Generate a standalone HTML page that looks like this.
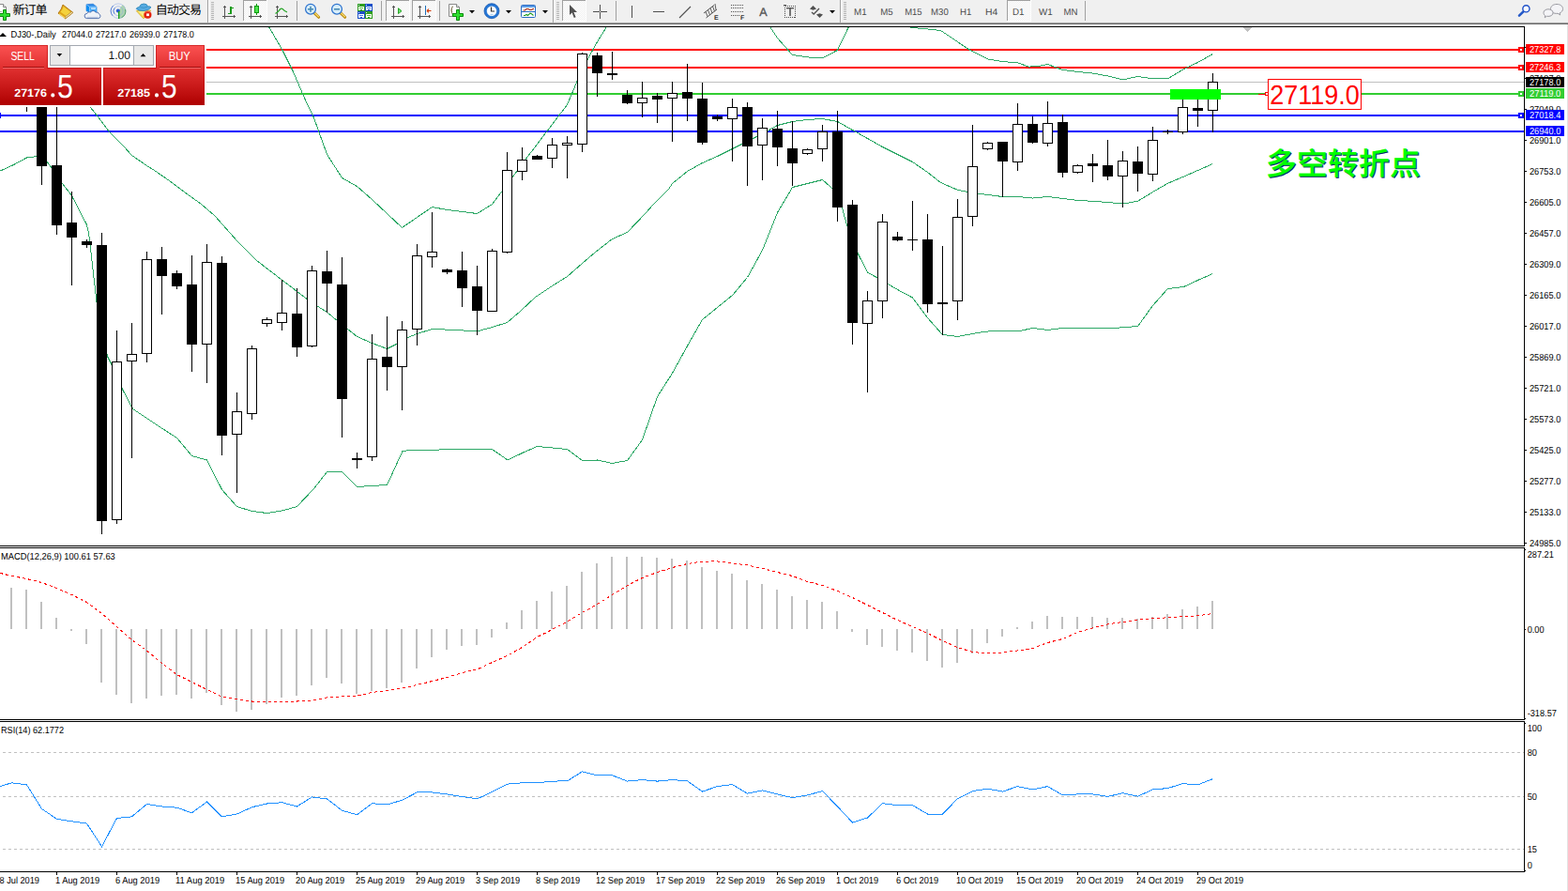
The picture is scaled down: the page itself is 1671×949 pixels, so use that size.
<!DOCTYPE html>
<html><head><meta charset="utf-8"><title>DJ30 Daily</title>
<style>html,body{margin:0;padding:0;background:#fff;overflow:hidden}body{width:1671px;height:949px;position:relative;font-family:"Liberation Sans",sans-serif}svg text{font-family:"Liberation Sans","Noto Sans CJK SC",sans-serif}</style></head>
<body>
<svg width="1671" height="949" viewBox="0 0 1671 949" text-rendering="geometricPrecision" style="position:absolute;left:0;top:0;font-family:'Liberation Sans','Noto Sans CJK SC',sans-serif">
<defs>
<linearGradient id="gr" x1="0" y1="48" x2="0" y2="112" gradientUnits="userSpaceOnUse"><stop offset="0" stop-color="#fb5252"/><stop offset="0.36" stop-color="#e23232"/><stop offset="0.7" stop-color="#c81818"/><stop offset="1" stop-color="#ad0000"/></linearGradient>
<clipPath id="cm"><rect x="0" y="29" width="1624" height="552"/></clipPath>
<pattern id="chk" width="2" height="2" patternUnits="userSpaceOnUse"><rect width="2" height="2" fill="#fff"/><rect width="1" height="1" fill="#f0f0f0"/><rect x="1" y="1" width="1" height="1" fill="#f0f0f0"/></pattern>
</defs>
<rect x="0" y="0" width="1671" height="949" fill="#fff"/>
<rect x="0" y="0" width="1671" height="23" fill="#f0f0f0"/>
<rect x="0" y="23" width="1671" height="1" fill="#ececec"/>
<rect x="0" y="24" width="1671" height="1" fill="#a0a0a0"/>
<rect x="0" y="25" width="1671" height="1" fill="#696969"/>
<rect x="1670" y="26" width="1" height="923" fill="#e3e3e3"/>
<g shape-rendering="crispEdges">
<g clip-path="url(#cm)">
<rect x="0" y="52" width="1624" height="2" fill="#ff0000"/>
<rect x="0" y="71" width="1624" height="2" fill="#ff0000"/>
<rect x="0" y="87" width="1624" height="1" fill="#c0c0c0"/>
<rect x="0" y="99" width="1624" height="2" fill="#32cd32"/>
<rect x="0" y="122" width="1624" height="2" fill="#0000ff"/>
<rect x="0" y="139" width="1624" height="2" fill="#0000ff"/>
<polyline points="286.5,28.5 300.5,52.5 312.5,76.5 324.5,104.5 334.5,125.5 348.5,164.5 364.5,189.5 380.5,198.5 396.5,212.5 412.5,227.5 428.5,242.5 444.5,231.5 460.5,220.5 476.5,223.5 492.5,225.5 508.5,227.5 524.5,217.5 540.5,196.5 556.5,174.5 572.5,153.5 588.5,132.5 604.5,111.5 620.5,73.5 636.5,44.5 646.5,28.5" fill="none" stroke="#2ca866" stroke-width="1"/>
<polyline points="820.5,28.5 828.5,40.5 844.5,58.5 860.5,60.9 876.5,61.9 892.5,53.5 904.5,28.5" fill="none" stroke="#2ca866" stroke-width="1"/>
<polyline points="968.5,28.5 972.5,29.5 988.5,31.0 1002.5,32.5 1020.5,44.5 1030.5,51.5 1052.5,62.9 1068.5,65.5 1084.5,66.9 1096.5,71.1 1106.5,70.5 1116.5,68.5 1132.5,74.5 1148.5,76.5 1164.5,78.1 1180.5,80.9 1196.5,84.9 1212.5,81.5 1228.5,83.9 1244.5,83.9 1260.5,74.1 1276.5,66.5 1292.5,57.5" fill="none" stroke="#2ca866" stroke-width="1"/>
<polyline points="60.5,92.5 76.5,100.5 96.5,114.5 104.5,124.5 116.5,140.5 132.5,156.5 140.5,165.5 156.5,176.5 164.5,181.5 180.5,192.5 196.5,204.5 214.5,217.5 228.5,229.5 253.5,257.5 273.5,277.5 301.5,299.0 326.5,318.0 340.5,327.5 348.5,332.5 360.5,342.5 370.5,350.5 380.5,358.5 396.5,365.5 412.5,371.5 422.5,366.5 434.5,359.5 444.5,355.5 460.5,350.5 476.5,351.1 492.5,351.9 508.5,352.9 524.5,348.5 540.5,343.5 554.5,331.5 570.5,316.5 588.5,304.5 604.5,294.5 620.5,280.5 634.5,268.5 652.5,254.5 668.5,247.5 688.5,226.5 696.5,217.5 712.5,201.5 716.5,195.5 732.5,182.5 748.5,173.5 764.5,166.5 780.5,158.5 796.5,150.5 812.5,142.5 828.5,133.5 844.5,129.5 860.5,127.5 876.5,126.5 892.5,129.5 908.5,138.5 924.5,147.5 940.5,156.5 956.5,164.5 972.5,172.5 988.5,183.5 1002.5,194.5 1020.5,202.3 1036.5,205.5 1052.5,207.5 1068.5,209.5 1084.5,209.5 1100.5,211.1 1116.5,209.5 1132.5,211.5 1148.5,213.5 1164.5,214.3 1180.5,215.5 1196.5,217.1 1212.5,214.3 1228.5,204.5 1244.5,195.3 1260.5,188.5 1276.5,181.5 1292.5,174.5" fill="none" stroke="#2ca866" stroke-width="1"/>
<polyline points="0.5,182.0 14.5,175.5 28.5,168.0 39.5,166.5 50.5,173.0 55.5,179.5 66.5,195.5 76.5,208.5 92.5,239.5 94.5,247.5 103.0,321.5 108.5,350.5 114.5,379.5 119.5,389.5 130.5,414.5 141.5,435.5 156.5,445.5 172.5,456.1 188.5,466.5 204.5,485.5 220.5,490.0 236.5,521.5 252.5,539.5 268.5,544.5 284.5,546.5 300.5,544.0 316.5,539.5 334.5,520.5 348.5,502.5 364.5,502.5 380.5,518.5 396.5,517.5 412.5,516.5 429.0,480.5 436.5,479.5 468.5,479.0 524.5,478.5 541.1,490.0 556.5,482.5 572.5,475.5 588.5,477.0 604.5,478.5 620.5,490.5 636.5,490.0 652.5,493.5 668.5,490.5 684.5,468.5 700.5,422.5 716.5,397.5 732.5,368.5 748.5,340.5 764.5,327.5 780.5,314.5 796.5,295.5 812.5,266.5 828.5,226.5 844.5,199.5 860.5,195.5 876.5,191.5 892.5,205.5 897.5,221.5 902.5,239.5 908.5,258.5 914.5,270.5 924.5,290.0 940.5,299.0 956.5,308.5 972.5,317.0 988.5,338.5 1004.5,356.5 1020.5,358.5 1036.5,355.5 1050.5,353.1 1068.5,352.5 1086.5,352.5 1100.5,349.5 1116.5,351.5 1132.5,349.5 1148.5,349.5 1164.5,349.5 1186.5,349.5 1212.5,347.5 1228.5,325.5 1244.5,307.5 1261.5,305.5 1276.5,298.5 1292.5,291.5" fill="none" stroke="#2ca866" stroke-width="1"/>
<rect x="28" y="70" width="1" height="49" fill="#000"/>
<rect x="23" y="80" width="11" height="21" fill="#000"/>
<rect x="44" y="70" width="1" height="127" fill="#000"/>
<rect x="39" y="72" width="11" height="105" fill="#000"/>
<rect x="60" y="70" width="1" height="180" fill="#000"/>
<rect x="55" y="176" width="11" height="64" fill="#000"/>
<rect x="76" y="204" width="1" height="100" fill="#000"/>
<rect x="71" y="237" width="11" height="16" fill="#000"/>
<rect x="92" y="255" width="1" height="9" fill="#000"/>
<rect x="87" y="257" width="11" height="4" fill="#000"/>
<rect x="108" y="248" width="1" height="321" fill="#000"/>
<rect x="103" y="261" width="11" height="294" fill="#000"/>
<rect x="124" y="352" width="1" height="206" fill="#000"/>
<rect x="119" y="385" width="11" height="169" fill="#000"/>
<rect x="120" y="386" width="9" height="167" fill="#fff"/>
<rect x="140" y="344" width="1" height="144" fill="#000"/>
<rect x="135" y="377" width="11" height="8" fill="#000"/>
<rect x="136" y="378" width="9" height="6" fill="#fff"/>
<rect x="156" y="268" width="1" height="118" fill="#000"/>
<rect x="151" y="276" width="11" height="101" fill="#000"/>
<rect x="152" y="277" width="9" height="99" fill="#fff"/>
<rect x="172" y="263" width="1" height="72" fill="#000"/>
<rect x="167" y="276" width="11" height="18" fill="#000"/>
<rect x="188" y="288" width="1" height="20" fill="#000"/>
<rect x="183" y="291" width="11" height="14" fill="#000"/>
<rect x="204" y="272" width="1" height="124" fill="#000"/>
<rect x="199" y="303" width="11" height="64" fill="#000"/>
<rect x="220" y="260" width="1" height="148" fill="#000"/>
<rect x="215" y="279" width="11" height="88" fill="#000"/>
<rect x="216" y="280" width="9" height="86" fill="#fff"/>
<rect x="236" y="273" width="1" height="212" fill="#000"/>
<rect x="231" y="280" width="11" height="184" fill="#000"/>
<rect x="252" y="418" width="1" height="107" fill="#000"/>
<rect x="247" y="438" width="11" height="25" fill="#000"/>
<rect x="248" y="439" width="9" height="23" fill="#fff"/>
<rect x="268" y="368" width="1" height="79" fill="#000"/>
<rect x="263" y="371" width="11" height="70" fill="#000"/>
<rect x="264" y="372" width="9" height="68" fill="#fff"/>
<rect x="284" y="338" width="1" height="10" fill="#000"/>
<rect x="279" y="340" width="11" height="5" fill="#000"/>
<rect x="280" y="341" width="9" height="3" fill="#fff"/>
<rect x="300" y="298" width="1" height="54" fill="#000"/>
<rect x="295" y="333" width="11" height="11" fill="#000"/>
<rect x="296" y="334" width="9" height="9" fill="#fff"/>
<rect x="316" y="307" width="1" height="73" fill="#000"/>
<rect x="311" y="334" width="11" height="36" fill="#000"/>
<rect x="332" y="283" width="1" height="87" fill="#000"/>
<rect x="327" y="288" width="11" height="81" fill="#000"/>
<rect x="328" y="289" width="9" height="79" fill="#fff"/>
<rect x="348" y="267" width="1" height="66" fill="#000"/>
<rect x="343" y="289" width="11" height="13" fill="#000"/>
<rect x="364" y="274" width="1" height="192" fill="#000"/>
<rect x="359" y="303" width="11" height="122" fill="#000"/>
<rect x="380" y="482" width="1" height="17" fill="#000"/>
<rect x="375" y="488" width="11" height="2" fill="#000"/>
<rect x="396" y="356" width="1" height="135" fill="#000"/>
<rect x="391" y="382" width="11" height="105" fill="#000"/>
<rect x="392" y="383" width="9" height="103" fill="#fff"/>
<rect x="412" y="337" width="1" height="79" fill="#000"/>
<rect x="407" y="380" width="11" height="11" fill="#000"/>
<rect x="428" y="342" width="1" height="95" fill="#000"/>
<rect x="423" y="351" width="11" height="40" fill="#000"/>
<rect x="424" y="352" width="9" height="38" fill="#fff"/>
<rect x="444" y="260" width="1" height="108" fill="#000"/>
<rect x="439" y="272" width="11" height="79" fill="#000"/>
<rect x="440" y="273" width="9" height="77" fill="#fff"/>
<rect x="460" y="226" width="1" height="59" fill="#000"/>
<rect x="455" y="268" width="11" height="6" fill="#000"/>
<rect x="456" y="269" width="9" height="4" fill="#fff"/>
<rect x="476" y="286" width="1" height="6" fill="#000"/>
<rect x="471" y="287" width="11" height="3" fill="#000"/>
<rect x="492" y="268" width="1" height="59" fill="#000"/>
<rect x="487" y="288" width="11" height="19" fill="#000"/>
<rect x="508" y="283" width="1" height="74" fill="#000"/>
<rect x="503" y="305" width="11" height="26" fill="#000"/>
<rect x="524" y="265" width="1" height="67" fill="#000"/>
<rect x="519" y="267" width="11" height="65" fill="#000"/>
<rect x="520" y="268" width="9" height="63" fill="#fff"/>
<rect x="540" y="162" width="1" height="108" fill="#000"/>
<rect x="535" y="181" width="11" height="88" fill="#000"/>
<rect x="536" y="182" width="9" height="86" fill="#fff"/>
<rect x="556" y="157" width="1" height="35" fill="#000"/>
<rect x="551" y="170" width="11" height="13" fill="#000"/>
<rect x="552" y="171" width="9" height="11" fill="#fff"/>
<rect x="572" y="165" width="1" height="5" fill="#000"/>
<rect x="567" y="166" width="11" height="4" fill="#000"/>
<rect x="588" y="147" width="1" height="32" fill="#000"/>
<rect x="583" y="154" width="11" height="15" fill="#000"/>
<rect x="584" y="155" width="9" height="13" fill="#fff"/>
<rect x="604" y="145" width="1" height="45" fill="#000"/>
<rect x="599" y="152" width="11" height="3" fill="#000"/>
<rect x="600" y="153" width="9" height="1" fill="#fff"/>
<rect x="620" y="56" width="1" height="106" fill="#000"/>
<rect x="615" y="57" width="11" height="97" fill="#000"/>
<rect x="616" y="58" width="9" height="95" fill="#fff"/>
<rect x="636" y="56" width="1" height="47" fill="#000"/>
<rect x="631" y="59" width="11" height="19" fill="#000"/>
<rect x="652" y="55" width="1" height="30" fill="#000"/>
<rect x="647" y="78" width="11" height="2" fill="#000"/>
<rect x="668" y="96" width="1" height="15" fill="#000"/>
<rect x="663" y="101" width="11" height="9" fill="#000"/>
<rect x="684" y="87" width="1" height="38" fill="#000"/>
<rect x="679" y="104" width="11" height="6" fill="#000"/>
<rect x="680" y="105" width="9" height="4" fill="#fff"/>
<rect x="700" y="99" width="1" height="32" fill="#000"/>
<rect x="695" y="102" width="11" height="4" fill="#000"/>
<rect x="716" y="87" width="1" height="64" fill="#000"/>
<rect x="711" y="99" width="11" height="6" fill="#000"/>
<rect x="712" y="100" width="9" height="4" fill="#fff"/>
<rect x="732" y="68" width="1" height="61" fill="#000"/>
<rect x="727" y="98" width="11" height="7" fill="#000"/>
<rect x="748" y="88" width="1" height="66" fill="#000"/>
<rect x="743" y="105" width="11" height="47" fill="#000"/>
<rect x="764" y="122" width="1" height="7" fill="#000"/>
<rect x="759" y="124" width="11" height="3" fill="#000"/>
<rect x="780" y="105" width="1" height="67" fill="#000"/>
<rect x="775" y="114" width="11" height="13" fill="#000"/>
<rect x="776" y="115" width="9" height="11" fill="#fff"/>
<rect x="796" y="109" width="1" height="89" fill="#000"/>
<rect x="791" y="114" width="11" height="42" fill="#000"/>
<rect x="812" y="126" width="1" height="66" fill="#000"/>
<rect x="807" y="136" width="11" height="19" fill="#000"/>
<rect x="808" y="137" width="9" height="17" fill="#fff"/>
<rect x="828" y="118" width="1" height="59" fill="#000"/>
<rect x="823" y="137" width="11" height="20" fill="#000"/>
<rect x="844" y="129" width="1" height="69" fill="#000"/>
<rect x="839" y="158" width="11" height="16" fill="#000"/>
<rect x="860" y="158" width="1" height="7" fill="#000"/>
<rect x="855" y="159" width="11" height="5" fill="#000"/>
<rect x="856" y="160" width="9" height="3" fill="#fff"/>
<rect x="876" y="133" width="1" height="39" fill="#000"/>
<rect x="871" y="140" width="11" height="19" fill="#000"/>
<rect x="872" y="141" width="9" height="17" fill="#fff"/>
<rect x="892" y="118" width="1" height="118" fill="#000"/>
<rect x="887" y="140" width="11" height="81" fill="#000"/>
<rect x="908" y="213" width="1" height="154" fill="#000"/>
<rect x="903" y="218" width="11" height="126" fill="#000"/>
<rect x="924" y="310" width="1" height="108" fill="#000"/>
<rect x="919" y="320" width="11" height="25" fill="#000"/>
<rect x="920" y="321" width="9" height="23" fill="#fff"/>
<rect x="940" y="228" width="1" height="111" fill="#000"/>
<rect x="935" y="236" width="11" height="85" fill="#000"/>
<rect x="936" y="237" width="9" height="83" fill="#fff"/>
<rect x="956" y="247" width="1" height="10" fill="#000"/>
<rect x="951" y="252" width="11" height="4" fill="#000"/>
<rect x="972" y="214" width="1" height="53" fill="#000"/>
<rect x="967" y="255" width="11" height="1" fill="#000"/>
<rect x="988" y="228" width="1" height="105" fill="#000"/>
<rect x="983" y="255" width="11" height="69" fill="#000"/>
<rect x="1004" y="262" width="1" height="95" fill="#000"/>
<rect x="999" y="322" width="11" height="2" fill="#000"/>
<rect x="1020" y="212" width="1" height="129" fill="#000"/>
<rect x="1015" y="231" width="11" height="90" fill="#000"/>
<rect x="1016" y="232" width="9" height="88" fill="#fff"/>
<rect x="1036" y="133" width="1" height="108" fill="#000"/>
<rect x="1031" y="177" width="11" height="54" fill="#000"/>
<rect x="1032" y="178" width="9" height="52" fill="#fff"/>
<rect x="1052" y="151" width="1" height="9" fill="#000"/>
<rect x="1047" y="152" width="11" height="7" fill="#000"/>
<rect x="1048" y="153" width="9" height="5" fill="#fff"/>
<rect x="1068" y="151" width="1" height="59" fill="#000"/>
<rect x="1063" y="151" width="11" height="21" fill="#000"/>
<rect x="1084" y="110" width="1" height="72" fill="#000"/>
<rect x="1079" y="132" width="11" height="41" fill="#000"/>
<rect x="1080" y="133" width="9" height="39" fill="#fff"/>
<rect x="1100" y="124" width="1" height="29" fill="#000"/>
<rect x="1095" y="132" width="11" height="20" fill="#000"/>
<rect x="1116" y="108" width="1" height="48" fill="#000"/>
<rect x="1111" y="131" width="11" height="22" fill="#000"/>
<rect x="1112" y="132" width="9" height="20" fill="#fff"/>
<rect x="1132" y="122" width="1" height="67" fill="#000"/>
<rect x="1127" y="130" width="11" height="54" fill="#000"/>
<rect x="1148" y="175" width="1" height="10" fill="#000"/>
<rect x="1143" y="176" width="11" height="8" fill="#000"/>
<rect x="1144" y="177" width="9" height="6" fill="#fff"/>
<rect x="1164" y="164" width="1" height="30" fill="#000"/>
<rect x="1159" y="174" width="11" height="3" fill="#000"/>
<rect x="1180" y="149" width="1" height="43" fill="#000"/>
<rect x="1175" y="176" width="11" height="12" fill="#000"/>
<rect x="1196" y="161" width="1" height="60" fill="#000"/>
<rect x="1191" y="171" width="11" height="17" fill="#000"/>
<rect x="1192" y="172" width="9" height="15" fill="#fff"/>
<rect x="1212" y="156" width="1" height="48" fill="#000"/>
<rect x="1207" y="172" width="11" height="13" fill="#000"/>
<rect x="1228" y="135" width="1" height="58" fill="#000"/>
<rect x="1223" y="149" width="11" height="37" fill="#000"/>
<rect x="1224" y="150" width="9" height="35" fill="#fff"/>
<rect x="1244" y="138" width="1" height="5" fill="#000"/>
<rect x="1239" y="140" width="11" height="1" fill="#000"/>
<rect x="1260" y="100" width="1" height="43" fill="#000"/>
<rect x="1255" y="114" width="11" height="27" fill="#000"/>
<rect x="1256" y="115" width="9" height="25" fill="#fff"/>
<rect x="1276" y="100" width="1" height="35" fill="#000"/>
<rect x="1271" y="115" width="11" height="3" fill="#000"/>
<rect x="1292" y="78" width="1" height="63" fill="#000"/>
<rect x="1287" y="87" width="11" height="31" fill="#000"/>
<rect x="1288" y="88" width="9" height="29" fill="#fff"/>
<rect x="1247" y="95" width="54" height="11" fill="#00ff00"/>
</g>
<rect x="1618" y="50" width="6" height="6" fill="#ff0000"/>
<rect x="1620" y="52" width="2" height="2" fill="#fff"/>
<rect x="1618" y="69" width="6" height="6" fill="#ff0000"/>
<rect x="1620" y="71" width="2" height="2" fill="#fff"/>
<rect x="1618" y="97" width="6" height="6" fill="#32cd32"/>
<rect x="1620" y="99" width="2" height="2" fill="#fff"/>
<rect x="1618" y="120" width="6" height="6" fill="#0000ff"/>
<rect x="1620" y="122" width="2" height="2" fill="#fff"/>
<rect x="0" y="120" width="1" height="6" fill="#0000ff"/>
<rect x="1325" y="29" width="9" height="1" fill="#c0c0c0"/>
<rect x="1326" y="30" width="7" height="1" fill="#c0c0c0"/>
<rect x="1327" y="31" width="5" height="1" fill="#c0c0c0"/>
<rect x="1328" y="32" width="3" height="1" fill="#c0c0c0"/>
<rect x="1329" y="33" width="1" height="1" fill="#c0c0c0"/>
<rect x="0" y="28" width="1625" height="1" fill="#000"/>
<rect x="1624" y="28" width="1" height="554" fill="#000"/>
<rect x="0" y="581" width="1625" height="1" fill="#000"/>
<rect x="0" y="583" width="1625" height="1" fill="#000"/>
<rect x="1624" y="583" width="1" height="184" fill="#000"/>
<rect x="0" y="766" width="1625" height="1" fill="#000"/>
<rect x="0" y="768" width="1625" height="1" fill="#000"/>
<rect x="1624" y="768" width="1" height="161" fill="#000"/>
<rect x="0" y="928" width="1625" height="1" fill="#000"/>
<rect x="11" y="626" width="2" height="44" fill="#c0c0c0"/>
<rect x="27" y="628" width="2" height="42" fill="#c0c0c0"/>
<rect x="43" y="641" width="2" height="29" fill="#c0c0c0"/>
<rect x="59" y="658" width="2" height="12" fill="#c0c0c0"/>
<rect x="75" y="670" width="2" height="2" fill="#c0c0c0"/>
<rect x="91" y="670" width="2" height="16" fill="#c0c0c0"/>
<rect x="107" y="670" width="2" height="57" fill="#c0c0c0"/>
<rect x="123" y="670" width="2" height="70" fill="#c0c0c0"/>
<rect x="139" y="670" width="2" height="79" fill="#c0c0c0"/>
<rect x="155" y="670" width="2" height="74" fill="#c0c0c0"/>
<rect x="171" y="670" width="2" height="71" fill="#c0c0c0"/>
<rect x="187" y="670" width="2" height="70" fill="#c0c0c0"/>
<rect x="203" y="670" width="2" height="74" fill="#c0c0c0"/>
<rect x="219" y="670" width="2" height="68" fill="#c0c0c0"/>
<rect x="235" y="670" width="2" height="81" fill="#c0c0c0"/>
<rect x="251" y="670" width="2" height="88" fill="#c0c0c0"/>
<rect x="267" y="670" width="2" height="86" fill="#c0c0c0"/>
<rect x="283" y="670" width="2" height="80" fill="#c0c0c0"/>
<rect x="299" y="670" width="2" height="73" fill="#c0c0c0"/>
<rect x="315" y="670" width="2" height="71" fill="#c0c0c0"/>
<rect x="331" y="670" width="2" height="60" fill="#c0c0c0"/>
<rect x="347" y="670" width="2" height="52" fill="#c0c0c0"/>
<rect x="363" y="670" width="2" height="58" fill="#c0c0c0"/>
<rect x="379" y="670" width="2" height="69" fill="#c0c0c0"/>
<rect x="395" y="670" width="2" height="66" fill="#c0c0c0"/>
<rect x="411" y="670" width="2" height="63" fill="#c0c0c0"/>
<rect x="427" y="670" width="2" height="57" fill="#c0c0c0"/>
<rect x="443" y="670" width="2" height="42" fill="#c0c0c0"/>
<rect x="459" y="670" width="2" height="30" fill="#c0c0c0"/>
<rect x="475" y="670" width="2" height="22" fill="#c0c0c0"/>
<rect x="491" y="670" width="2" height="18" fill="#c0c0c0"/>
<rect x="507" y="670" width="2" height="17" fill="#c0c0c0"/>
<rect x="523" y="670" width="2" height="9" fill="#c0c0c0"/>
<rect x="539" y="663" width="2" height="7" fill="#c0c0c0"/>
<rect x="555" y="650" width="2" height="20" fill="#c0c0c0"/>
<rect x="571" y="640" width="2" height="30" fill="#c0c0c0"/>
<rect x="587" y="630" width="2" height="40" fill="#c0c0c0"/>
<rect x="603" y="624" width="2" height="46" fill="#c0c0c0"/>
<rect x="619" y="609" width="2" height="61" fill="#c0c0c0"/>
<rect x="635" y="600" width="2" height="70" fill="#c0c0c0"/>
<rect x="651" y="593" width="2" height="77" fill="#c0c0c0"/>
<rect x="667" y="593" width="2" height="77" fill="#c0c0c0"/>
<rect x="683" y="593" width="2" height="77" fill="#c0c0c0"/>
<rect x="699" y="594" width="2" height="76" fill="#c0c0c0"/>
<rect x="715" y="595" width="2" height="75" fill="#c0c0c0"/>
<rect x="731" y="597" width="2" height="73" fill="#c0c0c0"/>
<rect x="747" y="604" width="2" height="66" fill="#c0c0c0"/>
<rect x="763" y="608" width="2" height="62" fill="#c0c0c0"/>
<rect x="779" y="611" width="2" height="59" fill="#c0c0c0"/>
<rect x="795" y="618" width="2" height="52" fill="#c0c0c0"/>
<rect x="811" y="622" width="2" height="48" fill="#c0c0c0"/>
<rect x="827" y="628" width="2" height="42" fill="#c0c0c0"/>
<rect x="843" y="635" width="2" height="35" fill="#c0c0c0"/>
<rect x="859" y="639" width="2" height="31" fill="#c0c0c0"/>
<rect x="875" y="641" width="2" height="29" fill="#c0c0c0"/>
<rect x="891" y="651" width="2" height="19" fill="#c0c0c0"/>
<rect x="907" y="670" width="2" height="3" fill="#c0c0c0"/>
<rect x="923" y="670" width="2" height="17" fill="#c0c0c0"/>
<rect x="939" y="670" width="2" height="19" fill="#c0c0c0"/>
<rect x="955" y="670" width="2" height="23" fill="#c0c0c0"/>
<rect x="971" y="670" width="2" height="25" fill="#c0c0c0"/>
<rect x="987" y="670" width="2" height="34" fill="#c0c0c0"/>
<rect x="1003" y="670" width="2" height="41" fill="#c0c0c0"/>
<rect x="1019" y="670" width="2" height="36" fill="#c0c0c0"/>
<rect x="1035" y="670" width="2" height="26" fill="#c0c0c0"/>
<rect x="1051" y="670" width="2" height="15" fill="#c0c0c0"/>
<rect x="1067" y="670" width="2" height="8" fill="#c0c0c0"/>
<rect x="1083" y="668" width="2" height="2" fill="#c0c0c0"/>
<rect x="1099" y="662" width="2" height="8" fill="#c0c0c0"/>
<rect x="1115" y="656" width="2" height="14" fill="#c0c0c0"/>
<rect x="1131" y="657" width="2" height="13" fill="#c0c0c0"/>
<rect x="1147" y="657" width="2" height="13" fill="#c0c0c0"/>
<rect x="1163" y="657" width="2" height="13" fill="#c0c0c0"/>
<rect x="1179" y="658" width="2" height="12" fill="#c0c0c0"/>
<rect x="1195" y="658" width="2" height="12" fill="#c0c0c0"/>
<rect x="1211" y="659" width="2" height="11" fill="#c0c0c0"/>
<rect x="1227" y="657" width="2" height="13" fill="#c0c0c0"/>
<rect x="1243" y="654" width="2" height="16" fill="#c0c0c0"/>
<rect x="1259" y="649" width="2" height="21" fill="#c0c0c0"/>
<rect x="1275" y="646" width="2" height="24" fill="#c0c0c0"/>
<rect x="1291" y="640" width="2" height="30" fill="#c0c0c0"/>
<polyline points="0.5,610.5 12.5,613.5 28.5,616.5 44.5,620.5 60.5,626.5 76.5,633.5 92.5,641.5 108.5,653.5 124.5,667.5 140.5,681.5 156.5,693.0 172.5,706.5 188.5,718.5 204.5,726.5 220.5,734.5 236.5,742.0 252.5,744.5 268.5,747.0 284.5,747.0 300.5,747.0 316.5,747.0 332.5,746.0 348.5,743.0 364.5,742.0 380.5,741.0 396.5,737.5 412.5,735.5 428.5,733.0 444.5,729.5 460.5,725.5 476.5,721.5 492.5,716.5 508.5,713.0 524.5,705.5 540.5,698.5 556.5,689.5 572.5,678.5 588.5,670.5 604.5,662.0 620.5,652.5 636.5,643.5 652.5,633.5 668.5,623.5 684.5,615.5 700.5,609.5 716.5,604.5 732.5,600.5 748.5,598.1 764.5,597.9 780.5,599.9 796.5,601.9 812.5,605.5 828.5,609.5 844.5,613.5 860.5,619.5 876.5,623.5 892.5,629.5 908.5,636.5 924.5,644.5 940.5,652.5 956.5,660.5 972.5,667.5 988.5,674.5 1004.5,682.5 1020.5,689.5 1036.5,694.5 1052.5,696.0 1068.5,695.0 1084.5,693.0 1100.5,690.5 1116.5,684.5 1132.5,680.5 1148.5,673.5 1164.5,668.8 1180.5,664.8 1196.5,662.5 1212.5,660.0 1228.5,658.8 1244.5,657.8 1260.5,656.8 1276.5,655.8 1292.5,653.5" fill="none" stroke="#ff0000" stroke-width="1" stroke-dasharray="3 3"/>
<line x1="3" y1="801.5" x2="1624" y2="801.5" stroke="#c0c0c0" stroke-width="1" stroke-dasharray="3 3"/>
<line x1="3" y1="848.5" x2="1624" y2="848.5" stroke="#c0c0c0" stroke-width="1" stroke-dasharray="3 3"/>
<line x1="3" y1="904.5" x2="1624" y2="904.5" stroke="#c0c0c0" stroke-width="1" stroke-dasharray="3 3"/>
<polyline points="0.5,837.5 12.5,833.8 28.5,835.9 44.5,861.5 60.5,872.3 76.5,874.8 92.5,877.1 108.5,901.7 124.5,871.5 140.5,869.8 156.5,856.5 172.5,859.0 188.5,860.2 204.5,865.8 220.5,854.0 236.5,869.8 252.5,867.0 268.5,859.7 284.5,856.0 300.5,854.7 316.5,859.0 332.5,848.9 348.5,850.9 364.5,863.2 380.5,867.8 396.5,855.7 412.5,857.0 428.5,852.2 444.5,843.9 460.5,843.9 476.5,845.9 492.5,848.5 508.5,850.9 524.5,843.4 540.5,835.1 556.5,833.8 572.5,833.8 588.5,832.1 604.5,831.8 620.5,821.8 636.5,825.8 652.5,825.8 668.5,832.1 684.5,830.6 700.5,832.1 716.5,830.6 732.5,831.8 748.5,843.1 764.5,837.6 780.5,835.6 796.5,845.2 812.5,841.9 828.5,845.9 844.5,849.7 860.5,846.9 876.5,842.6 892.5,859.0 908.5,876.1 924.5,871.0 940.5,855.7 956.5,857.7 972.5,857.7 988.5,867.0 1004.5,867.0 1020.5,850.7 1036.5,842.6 1052.5,840.1 1068.5,843.1 1084.5,837.6 1100.5,840.9 1116.5,837.6 1132.5,846.9 1148.5,845.9 1164.5,845.9 1180.5,848.4 1196.5,844.7 1212.5,848.2 1228.5,840.9 1244.5,839.6 1260.5,834.6 1276.5,835.9 1292.5,829.6" fill="none" stroke="#1e90ff" stroke-width="1"/>
<rect x="1625" y="50" width="2" height="1" fill="#000"/>
<rect x="1625" y="83" width="2" height="1" fill="#000"/>
<rect x="1625" y="116" width="2" height="1" fill="#000"/>
<rect x="1625" y="149" width="2" height="1" fill="#000"/>
<rect x="1625" y="182" width="2" height="1" fill="#000"/>
<rect x="1625" y="215" width="2" height="1" fill="#000"/>
<rect x="1625" y="248" width="2" height="1" fill="#000"/>
<rect x="1625" y="281" width="2" height="1" fill="#000"/>
<rect x="1625" y="314" width="2" height="1" fill="#000"/>
<rect x="1625" y="347" width="2" height="1" fill="#000"/>
<rect x="1625" y="380" width="2" height="1" fill="#000"/>
<rect x="1625" y="413" width="2" height="1" fill="#000"/>
<rect x="1625" y="446" width="2" height="1" fill="#000"/>
<rect x="1625" y="479" width="2" height="1" fill="#000"/>
<rect x="1625" y="512" width="2" height="1" fill="#000"/>
<rect x="1625" y="545" width="2" height="1" fill="#000"/>
<rect x="1625" y="578" width="2" height="1" fill="#000"/>
<rect x="1625" y="585" width="1" height="1" fill="#000"/>
<rect x="1625" y="670" width="1" height="1" fill="#000"/>
<rect x="1625" y="765" width="1" height="1" fill="#000"/>
<rect x="1625" y="770" width="1" height="1" fill="#000"/>
<rect x="1625" y="927" width="1" height="1" fill="#000"/>
<rect x="60" y="929" width="1" height="3" fill="#000"/>
<rect x="124" y="929" width="1" height="3" fill="#000"/>
<rect x="188" y="929" width="1" height="3" fill="#000"/>
<rect x="252" y="929" width="1" height="3" fill="#000"/>
<rect x="316" y="929" width="1" height="3" fill="#000"/>
<rect x="380" y="929" width="1" height="3" fill="#000"/>
<rect x="444" y="929" width="1" height="3" fill="#000"/>
<rect x="508" y="929" width="1" height="3" fill="#000"/>
<rect x="572" y="929" width="1" height="3" fill="#000"/>
<rect x="636" y="929" width="1" height="3" fill="#000"/>
<rect x="700" y="929" width="1" height="3" fill="#000"/>
<rect x="764" y="929" width="1" height="3" fill="#000"/>
<rect x="828" y="929" width="1" height="3" fill="#000"/>
<rect x="892" y="929" width="1" height="3" fill="#000"/>
<rect x="956" y="929" width="1" height="3" fill="#000"/>
<rect x="1020" y="929" width="1" height="3" fill="#000"/>
<rect x="1084" y="929" width="1" height="3" fill="#000"/>
<rect x="1148" y="929" width="1" height="3" fill="#000"/>
<rect x="1212" y="929" width="1" height="3" fill="#000"/>
<rect x="1276" y="929" width="1" height="3" fill="#000"/>
</g>
<text x="1630" y="87" font-size="10.2" fill="#000" textLength="33.26" lengthAdjust="spacingAndGlyphs">27197.0</text>
<text x="1630" y="120" font-size="10.2" fill="#000" textLength="33.26" lengthAdjust="spacingAndGlyphs">27049.0</text>
<text x="1630" y="153" font-size="10.2" fill="#000" textLength="33.26" lengthAdjust="spacingAndGlyphs">26901.0</text>
<text x="1630" y="186" font-size="10.2" fill="#000" textLength="33.26" lengthAdjust="spacingAndGlyphs">26753.0</text>
<text x="1630" y="219" font-size="10.2" fill="#000" textLength="33.26" lengthAdjust="spacingAndGlyphs">26605.0</text>
<text x="1630" y="252" font-size="10.2" fill="#000" textLength="33.26" lengthAdjust="spacingAndGlyphs">26457.0</text>
<text x="1630" y="285" font-size="10.2" fill="#000" textLength="33.26" lengthAdjust="spacingAndGlyphs">26309.0</text>
<text x="1630" y="318" font-size="10.2" fill="#000" textLength="33.26" lengthAdjust="spacingAndGlyphs">26165.0</text>
<text x="1630" y="351" font-size="10.2" fill="#000" textLength="33.26" lengthAdjust="spacingAndGlyphs">26017.0</text>
<text x="1630" y="384" font-size="10.2" fill="#000" textLength="33.26" lengthAdjust="spacingAndGlyphs">25869.0</text>
<text x="1630" y="417" font-size="10.2" fill="#000" textLength="33.26" lengthAdjust="spacingAndGlyphs">25721.0</text>
<text x="1630" y="450" font-size="10.2" fill="#000" textLength="33.26" lengthAdjust="spacingAndGlyphs">25573.0</text>
<text x="1630" y="483" font-size="10.2" fill="#000" textLength="33.26" lengthAdjust="spacingAndGlyphs">25425.0</text>
<text x="1630" y="516" font-size="10.2" fill="#000" textLength="33.26" lengthAdjust="spacingAndGlyphs">25277.0</text>
<text x="1630" y="549" font-size="10.2" fill="#000" textLength="33.26" lengthAdjust="spacingAndGlyphs">25133.0</text>
<text x="1630" y="582" font-size="10.2" fill="#000" textLength="33.26" lengthAdjust="spacingAndGlyphs">24985.0</text>
<rect x="1626" y="47" width="41" height="11" fill="#ff0000" shape-rendering="crispEdges"/>
<text x="1630" y="56" font-size="10.2" fill="#fff" textLength="33.26" lengthAdjust="spacingAndGlyphs">27327.8</text>
<rect x="1626" y="66" width="41" height="11" fill="#ff0000" shape-rendering="crispEdges"/>
<text x="1630" y="75" font-size="10.2" fill="#fff" textLength="33.26" lengthAdjust="spacingAndGlyphs">27246.3</text>
<rect x="1626" y="82" width="41" height="11" fill="#000000" shape-rendering="crispEdges"/>
<text x="1630" y="91" font-size="10.2" fill="#fff" textLength="33.26" lengthAdjust="spacingAndGlyphs">27178.0</text>
<rect x="1626" y="94" width="41" height="11" fill="#32cd32" shape-rendering="crispEdges"/>
<text x="1630" y="103" font-size="10.2" fill="#fff" textLength="33.26" lengthAdjust="spacingAndGlyphs">27119.0</text>
<rect x="1626" y="117" width="41" height="11" fill="#0000ff" shape-rendering="crispEdges"/>
<text x="1630" y="126" font-size="10.2" fill="#fff" textLength="33.26" lengthAdjust="spacingAndGlyphs">27018.4</text>
<rect x="1626" y="134" width="41" height="11" fill="#0000ff" shape-rendering="crispEdges"/>
<text x="1630" y="143" font-size="10.2" fill="#fff" textLength="33.26" lengthAdjust="spacingAndGlyphs">26940.0</text>
<text x="1627.7" y="594" font-size="10.2" fill="#000" textLength="28.14" lengthAdjust="spacingAndGlyphs">287.21</text>
<text x="1627.7" y="674" font-size="10.2" fill="#000" textLength="17.91" lengthAdjust="spacingAndGlyphs">0.00</text>
<text x="1627.7" y="763" font-size="10.2" fill="#000" textLength="31.20" lengthAdjust="spacingAndGlyphs">-318.57</text>
<text x="1627.7" y="779" font-size="10.2" fill="#000" textLength="15.35" lengthAdjust="spacingAndGlyphs">100</text>
<text x="1627.7" y="805" font-size="10.2" fill="#000" textLength="10.23" lengthAdjust="spacingAndGlyphs">80</text>
<text x="1627.7" y="852" font-size="10.2" fill="#000" textLength="10.23" lengthAdjust="spacingAndGlyphs">50</text>
<text x="1627.7" y="908" font-size="10.2" fill="#000" textLength="10.23" lengthAdjust="spacingAndGlyphs">15</text>
<text x="1627.7" y="925" font-size="10.2" fill="#000" textLength="5.12" lengthAdjust="spacingAndGlyphs">0</text>
<text x="-5.6" y="941" font-size="10.2" fill="#000" textLength="47.57" lengthAdjust="spacingAndGlyphs">28 Jul 2019</text>
<text x="59" y="941" font-size="10.2" fill="#000" textLength="47.07" lengthAdjust="spacingAndGlyphs">1 Aug 2019</text>
<text x="123" y="941" font-size="10.2" fill="#000" textLength="47.07" lengthAdjust="spacingAndGlyphs">6 Aug 2019</text>
<text x="187" y="941" font-size="10.2" fill="#000" textLength="52.18" lengthAdjust="spacingAndGlyphs">11 Aug 2019</text>
<text x="251" y="941" font-size="10.2" fill="#000" textLength="52.18" lengthAdjust="spacingAndGlyphs">15 Aug 2019</text>
<text x="315" y="941" font-size="10.2" fill="#000" textLength="52.18" lengthAdjust="spacingAndGlyphs">20 Aug 2019</text>
<text x="379" y="941" font-size="10.2" fill="#000" textLength="52.18" lengthAdjust="spacingAndGlyphs">25 Aug 2019</text>
<text x="443" y="941" font-size="10.2" fill="#000" textLength="52.18" lengthAdjust="spacingAndGlyphs">29 Aug 2019</text>
<text x="507" y="941" font-size="10.2" fill="#000" textLength="47.07" lengthAdjust="spacingAndGlyphs">3 Sep 2019</text>
<text x="571" y="941" font-size="10.2" fill="#000" textLength="47.07" lengthAdjust="spacingAndGlyphs">8 Sep 2019</text>
<text x="635" y="941" font-size="10.2" fill="#000" textLength="52.18" lengthAdjust="spacingAndGlyphs">12 Sep 2019</text>
<text x="699" y="941" font-size="10.2" fill="#000" textLength="52.18" lengthAdjust="spacingAndGlyphs">17 Sep 2019</text>
<text x="763" y="941" font-size="10.2" fill="#000" textLength="52.18" lengthAdjust="spacingAndGlyphs">22 Sep 2019</text>
<text x="827" y="941" font-size="10.2" fill="#000" textLength="52.18" lengthAdjust="spacingAndGlyphs">26 Sep 2019</text>
<text x="891" y="941" font-size="10.2" fill="#000" textLength="45.01" lengthAdjust="spacingAndGlyphs">1 Oct 2019</text>
<text x="955" y="941" font-size="10.2" fill="#000" textLength="45.01" lengthAdjust="spacingAndGlyphs">6 Oct 2019</text>
<text x="1019" y="941" font-size="10.2" fill="#000" textLength="50.13" lengthAdjust="spacingAndGlyphs">10 Oct 2019</text>
<text x="1083" y="941" font-size="10.2" fill="#000" textLength="50.13" lengthAdjust="spacingAndGlyphs">15 Oct 2019</text>
<text x="1147" y="941" font-size="10.2" fill="#000" textLength="50.13" lengthAdjust="spacingAndGlyphs">20 Oct 2019</text>
<text x="1211" y="941" font-size="10.2" fill="#000" textLength="50.13" lengthAdjust="spacingAndGlyphs">24 Oct 2019</text>
<text x="1275" y="941" font-size="10.2" fill="#000" textLength="50.13" lengthAdjust="spacingAndGlyphs">29 Oct 2019</text>
<text x="1" y="596" font-size="10.2" fill="#000" textLength="121.80" lengthAdjust="spacingAndGlyphs">MACD(12,26,9) 100.61 57.63</text>
<text x="1" y="781" font-size="10.2" fill="#000" textLength="67.00" lengthAdjust="spacingAndGlyphs">RSI(14) 62.1772</text>
<polygon points="-1,39 3,35 7,39" fill="#000"/>
<text x="11.5" y="40" font-size="10.2" fill="#000" textLength="48.20" lengthAdjust="spacingAndGlyphs">DJ30-,Daily</text>
<text x="66" y="40" font-size="10.2" fill="#000" textLength="32.60" lengthAdjust="spacingAndGlyphs">27044.0</text>
<text x="102" y="40" font-size="10.2" fill="#000" textLength="32.60" lengthAdjust="spacingAndGlyphs">27217.0</text>
<text x="138" y="40" font-size="10.2" fill="#000" textLength="32.60" lengthAdjust="spacingAndGlyphs">26939.0</text>
<text x="174.2" y="40" font-size="10.2" fill="#000" textLength="32.60" lengthAdjust="spacingAndGlyphs">27178.0</text>
<g shape-rendering="crispEdges">
<rect x="1341" y="100" width="8" height="1" fill="#ff0000"/>
<rect x="1348" y="98" width="4" height="4" fill="#ff0000"/>
<rect x="1349" y="99" width="2" height="2" fill="#fff"/>
<rect x="1351" y="84" width="100" height="33" fill="#ff0000"/>
<rect x="1352" y="85" width="98" height="31" fill="#fff"/>
</g>
<text x="1353.3" y="111" font-size="29" fill="#ff0000" textLength="95.60" lengthAdjust="spacingAndGlyphs">27119.0</text>
<text x="1350.0" y="186.9" font-size="32.8" font-weight="500" fill="#0a2466" stroke="#0a2466" stroke-width="0.23" textLength="164.8" lengthAdjust="spacing" style="font-family:'Liberation Sans','Noto Sans CJK SC',sans-serif">多空转折点</text>
<text x="1348.9" y="185.9" font-size="32.8" font-weight="500" fill="#00ff00" stroke="#00ff00" stroke-width="0.23" textLength="164.8" lengthAdjust="spacing" style="font-family:'Liberation Sans','Noto Sans CJK SC',sans-serif">多空转折点</text>
<g shape-rendering="crispEdges">
<rect x="0" y="48" width="220" height="66" fill="#fff"/>
<path d="M0,48H51V72H108V112H0Z" fill="url(#gr)"/>
<path d="M166,48H218V112H110V72H166Z" fill="url(#gr)"/>
<path d="M-0.5,48.5H50.5V72.5H107.5V111.5H-0.5Z" fill="none" stroke="#b80808" stroke-opacity="0.55"/>
<path d="M166.5,48.5H217.5V111.5H110.5V72.5H166.5Z" fill="none" stroke="#b80808" stroke-opacity="0.55"/>
<rect x="3" y="71" width="44" height="1" fill="#a50d0d"/>
<rect x="3" y="72" width="44" height="1" fill="#f06666"/>
<rect x="170" y="71" width="44" height="1" fill="#a50d0d"/>
<rect x="170" y="72" width="44" height="1" fill="#f06666"/>
<rect x="53" y="48" width="111" height="22" fill="#a3a8b0"/>
<rect x="54" y="49" width="109" height="20" fill="#fff"/>
<rect x="54" y="49" width="20" height="20" fill="#e9e9e9"/>
<rect x="74" y="49" width="1" height="20" fill="#a3a8b0"/>
<rect x="143" y="49" width="20" height="20" fill="#e9e9e9"/>
<rect x="142" y="49" width="1" height="20" fill="#a3a8b0"/>
</g>
<polygon points="60.6,57 66.2,57 63.4,60.2" fill="#000"/>
<polygon points="149.6,60.2 155.4,60.2 152.5,57" fill="#000"/>
<text x="139" y="63" font-size="12.3" fill="#111" textLength="23.60" lengthAdjust="spacingAndGlyphs" text-anchor="end">1.00</text>
<text x="11.4" y="64.2" font-size="13" fill="#fff" textLength="25.40" lengthAdjust="spacingAndGlyphs">SELL</text>
<text x="179.7" y="64.2" font-size="13" fill="#fff" textLength="23.10" lengthAdjust="spacingAndGlyphs">BUY</text>
<text x="15.2" y="102.8" font-size="12" fill="#fff" textLength="34.80" lengthAdjust="spacingAndGlyphs" font-weight="bold">27176</text>
<text x="125.2" y="102.8" font-size="12" fill="#fff" textLength="34.80" lengthAdjust="spacingAndGlyphs" font-weight="bold">27185</text>
<rect x="54.3" y="99.3" width="4" height="4.1" rx="1.9" fill="#fff"/>
<rect x="165" y="99.3" width="4" height="4.1" rx="1.9" fill="#fff"/>
<text x="60.9" y="103.6" font-size="35" fill="#fff" textLength="16.80" lengthAdjust="spacingAndGlyphs">5</text>
<text x="171.9" y="103.6" font-size="35" fill="#fff" textLength="16.60" lengthAdjust="spacingAndGlyphs">5</text>
<g id="toolbar">
<path d="M-3.5,4.5H3.5L6.5,7.5V15.5H-3.5Z" fill="#fff" stroke="#8a8a8a"/>
<path d="M3.5,4.5V7.5H6.5" fill="#e8e8e8" stroke="#8a8a8a"/>
<rect x="0" y="12" width="2" height="1" fill="#b0b0b0" shape-rendering="crispEdges"/>
<path d="M3.5,10.5H6.5V14.5H10.5V17.5H6.5V21.5H3.5V17.5H-1.5V14.5H3.5Z" fill="#2fe02f" stroke="#0c8a0c"/>
<text x="13.5" y="14.9" font-size="13" fill="#000" textLength="37.1" lengthAdjust="spacing" style="font-family:'Liberation Sans','Noto Sans CJK SC',sans-serif">新订单</text>
<text x="165.8" y="14.9" font-size="13" fill="#000" textLength="49.2" lengthAdjust="spacing" style="font-family:'Liberation Sans','Noto Sans CJK SC',sans-serif">自动交易</text>
<path d="M67,5 L77.8,13.4 L69.7,19.8 L62,14.1 Q65.6,10.4 67,5Z" fill="#dfa416" stroke="#b07410" stroke-width="0.9"/>
<path d="M67.7,7 L75.6,13 L70.6,16.9 L64.4,12.8 Q66.8,10 67.7,7Z" fill="#f4d23e"/>
<path d="M76.4,12.4 L77.8,13.4 L69.7,19.8 L69.3,18.1Z" fill="#efe3b4" stroke="#9c6a10" stroke-width="0.5"/>
<path d="M62.9,14.8 L69.3,19.2" stroke="#f7de70" stroke-width="1.1"/>
<path d="M92,4.7 L99.2,4.2 L103,7.2 L103,13 L95.5,13 L92,11.6Z" fill="#2a8ae8" stroke="#1a6fd0" stroke-width="0.6"/>
<path d="M92,4.7 L95.5,7.2 V13 L92,11.6Z" fill="#0f8ef2"/>
<path d="M95.5,7.2 H103 V13 H95.5Z" fill="#45aaf8"/>
<path d="M95.5,7.2 V13 M92,4.7 L95.5,7.2 H103" stroke="#d8efff" stroke-width="0.5" fill="none"/>
<rect x="97" y="8.4" width="5" height="1.3" fill="#e8f6ff"/>
<path d="M92.6,19.6 a2.6,2.6 0 0 1 0.2,-5.2 a2.4,2.4 0 0 1 3.6,-1.2 a3.1,3.1 0 0 1 5.6,0 a2.5,2.5 0 0 1 3.4,1.6 a2.5,2.5 0 0 1 -0.6,4.8Z" fill="#eef2f8" stroke="#4666a8" stroke-width="0.9"/>
<path d="M92.4,18.4 H104.6" stroke="#c2cee4" stroke-width="1.2"/>
<path d="M126,11.7 L126,19.9 A8.2,8.2 0 0 0 130.6,4.9 Z" fill="#5db35d" opacity="0.45"/>
<g fill="none">
<circle cx="126" cy="11.7" r="7.8" stroke="#9ab4e6" stroke-width="1" opacity="0.6"/>
<circle cx="126" cy="11.7" r="5" stroke="#8aa8e2" stroke-width="1" opacity="0.6"/>
<path d="M120.6,6 A7.8,7.8 0 0 0 120,16.8" stroke="#4a76d6" stroke-width="1" opacity="0.85"/>
<path d="M122.4,8.3 A5,5 0 0 0 122,14.8" stroke="#4a76d6" stroke-width="1" opacity="0.85"/>
<path d="M129.5,18.7 A7.8,7.8 0 0 0 133.6,10" stroke="#3f9a4f" stroke-width="1" opacity="0.8"/>
</g>
<circle cx="125.8" cy="11.6" r="2" fill="#2a5cd2"/>
<rect x="126" y="12" width="1.4" height="8" fill="#22a022"/>
<path d="M145.3,11.6 L160.6,11 L157,16.2 L152.9,19.8Z" fill="#f6d94c" stroke="#d2a818" stroke-width="0.7"/>
<path d="M147,12 L156,11.6 L152.6,17Z" fill="#fbec8a"/>
<path d="M145.2,9.4 q0.4,-1.6 3.2,-1.8 q1,-3.6 4.8,-3.6 q3.8,0 4.4,3 q2.6,-0.6 3.4,0.8 q-2.4,3.6 -8,3.8 q-5,0.2 -7.8,-2.2Z" fill="#57abe2" stroke="#2683b6" stroke-width="0.8"/>
<path d="M149.4,7.6 q3.6,1.8 7.6,-0.4" fill="none" stroke="#2683b6" stroke-width="0.6"/>
<circle cx="157.4" cy="15.75" r="4.1" fill="#e22410"/>
<path d="M154.2,14.2 a3.6,3.6 0 0 1 6.2,-0.6" fill="none" stroke="#f4705c" stroke-width="0.8"/>
<rect x="156.1" y="14.4" width="2.8" height="2.7" fill="#fff"/>
<rect x="221" y="0" width="1" height="24" fill="#a0a0a0" shape-rendering="crispEdges"/>
<rect x="222" y="0" width="1" height="24" fill="#fff" shape-rendering="crispEdges"/>
<rect x="225" y="2" width="3" height="1" fill="#b4b4b4" shape-rendering="crispEdges"/>
<rect x="225" y="4" width="3" height="1" fill="#b4b4b4" shape-rendering="crispEdges"/>
<rect x="225" y="6" width="3" height="1" fill="#b4b4b4" shape-rendering="crispEdges"/>
<rect x="225" y="8" width="3" height="1" fill="#b4b4b4" shape-rendering="crispEdges"/>
<rect x="225" y="10" width="3" height="1" fill="#b4b4b4" shape-rendering="crispEdges"/>
<rect x="225" y="12" width="3" height="1" fill="#b4b4b4" shape-rendering="crispEdges"/>
<rect x="225" y="14" width="3" height="1" fill="#b4b4b4" shape-rendering="crispEdges"/>
<rect x="225" y="16" width="3" height="1" fill="#b4b4b4" shape-rendering="crispEdges"/>
<rect x="225" y="18" width="3" height="1" fill="#b4b4b4" shape-rendering="crispEdges"/>
<rect x="225" y="20" width="3" height="1" fill="#b4b4b4" shape-rendering="crispEdges"/>
<rect x="239" y="6" width="1" height="14" fill="#555" shape-rendering="crispEdges"/>
<rect x="237" y="17" width="14" height="1" fill="#555" shape-rendering="crispEdges"/>
<rect x="238" y="7" width="3" height="1" fill="#555" shape-rendering="crispEdges"/>
<rect x="249" y="16" width="1" height="3" fill="#555" shape-rendering="crispEdges"/>
<rect x="245" y="7" width="2" height="8" fill="#1a9a1a" shape-rendering="crispEdges"/>
<rect x="247" y="8" width="2" height="1" fill="#1a9a1a" shape-rendering="crispEdges"/>
<rect x="243" y="14" width="2" height="1" fill="#1a9a1a" shape-rendering="crispEdges"/>
<rect x="259" y="0" width="26" height="23" fill="url(#chk)" shape-rendering="crispEdges"/>
<rect x="259" y="0" width="25" height="1" fill="#a0a0a0" shape-rendering="crispEdges"/>
<rect x="259" y="0" width="1" height="22" fill="#a0a0a0" shape-rendering="crispEdges"/>
<rect x="284" y="0" width="1" height="23" fill="#fff" shape-rendering="crispEdges"/>
<rect x="259" y="22" width="26" height="1" fill="#fff" shape-rendering="crispEdges"/>
<rect x="267" y="6" width="1" height="14" fill="#555" shape-rendering="crispEdges"/>
<rect x="265" y="17" width="14" height="1" fill="#555" shape-rendering="crispEdges"/>
<rect x="266" y="7" width="3" height="1" fill="#555" shape-rendering="crispEdges"/>
<rect x="277" y="16" width="1" height="3" fill="#555" shape-rendering="crispEdges"/>
<rect x="273" y="4" width="1" height="12" fill="#0d9a0d" shape-rendering="crispEdges"/>
<rect x="271" y="6" width="5" height="8" fill="#0d9a0d" shape-rendering="crispEdges"/>
<rect x="272" y="7" width="3" height="6" fill="#4fe34f" shape-rendering="crispEdges"/>
<rect x="295" y="6" width="1" height="14" fill="#555" shape-rendering="crispEdges"/>
<rect x="293" y="17" width="14" height="1" fill="#555" shape-rendering="crispEdges"/>
<rect x="294" y="7" width="3" height="1" fill="#555" shape-rendering="crispEdges"/>
<rect x="305" y="16" width="1" height="3" fill="#555" shape-rendering="crispEdges"/>
<path d="M293.5,14.5 Q297,12 298.5,9.8 Q300,8.4 301.5,9.8 Q303.5,12.2 306,12.8" fill="none" stroke="#2da82d" stroke-width="1.3"/>
<rect x="316" y="1" width="1" height="21" fill="#a0a0a0" shape-rendering="crispEdges"/>
<path d="M334.8,13.6 L339.6,18.3" stroke="#b8860b" stroke-width="3" stroke-linecap="round"/>
<path d="M335.2,13.6 L339.4,17.8" stroke="#f4d868" stroke-width="1.4" stroke-linecap="round"/>
<circle cx="331" cy="9.7" r="5.4" fill="#d8eefa" stroke="#2f74cf" stroke-width="1.3"/>
<rect x="328" y="9" width="6" height="1.6" fill="#4a8cb4"/>
<rect x="330.2" y="6.8" width="1.6" height="6" fill="#4a8cb4"/>
<path d="M362.8,13.6 L367.6,18.3" stroke="#b8860b" stroke-width="3" stroke-linecap="round"/>
<path d="M363.2,13.6 L367.4,17.8" stroke="#f4d868" stroke-width="1.4" stroke-linecap="round"/>
<circle cx="359" cy="9.7" r="5.4" fill="#d8eefa" stroke="#2f74cf" stroke-width="1.3"/>
<rect x="356" y="9" width="6" height="1.6" fill="#4a8cb4"/>
<rect x="381" y="4" width="8" height="8" fill="#2f9e1e" shape-rendering="crispEdges"/>
<rect x="382" y="5" width="1" height="1" fill="#cfe8ff" shape-rendering="crispEdges"/>
<rect x="382" y="7" width="6" height="4" fill="#fff" shape-rendering="crispEdges"/>
<rect x="383" y="8" width="4" height="1" fill="#58c040" shape-rendering="crispEdges"/>
<rect x="384" y="10" width="2" height="1" fill="#2f9e1e" shape-rendering="crispEdges"/>
<rect x="389" y="4" width="8" height="8" fill="#1c4fc8" shape-rendering="crispEdges"/>
<rect x="390" y="5" width="1" height="1" fill="#cfe8ff" shape-rendering="crispEdges"/>
<rect x="390" y="7" width="6" height="4" fill="#fff" shape-rendering="crispEdges"/>
<rect x="391" y="8" width="4" height="1" fill="#4a7ee8" shape-rendering="crispEdges"/>
<rect x="392" y="10" width="2" height="1" fill="#1c4fc8" shape-rendering="crispEdges"/>
<rect x="381" y="12" width="8" height="8" fill="#1c4fc8" shape-rendering="crispEdges"/>
<rect x="382" y="13" width="1" height="1" fill="#cfe8ff" shape-rendering="crispEdges"/>
<rect x="382" y="15" width="6" height="4" fill="#fff" shape-rendering="crispEdges"/>
<rect x="383" y="16" width="4" height="1" fill="#4a7ee8" shape-rendering="crispEdges"/>
<rect x="384" y="18" width="2" height="1" fill="#1c4fc8" shape-rendering="crispEdges"/>
<rect x="389" y="12" width="8" height="8" fill="#2f9e1e" shape-rendering="crispEdges"/>
<rect x="390" y="13" width="1" height="1" fill="#cfe8ff" shape-rendering="crispEdges"/>
<rect x="390" y="15" width="6" height="4" fill="#fff" shape-rendering="crispEdges"/>
<rect x="391" y="16" width="4" height="1" fill="#58c040" shape-rendering="crispEdges"/>
<rect x="392" y="18" width="2" height="1" fill="#2f9e1e" shape-rendering="crispEdges"/>
<rect x="406" y="1" width="1" height="21" fill="#a0a0a0" shape-rendering="crispEdges"/>
<rect x="411" y="0" width="26" height="23" fill="url(#chk)" shape-rendering="crispEdges"/>
<rect x="411" y="0" width="25" height="1" fill="#a0a0a0" shape-rendering="crispEdges"/>
<rect x="411" y="0" width="1" height="22" fill="#a0a0a0" shape-rendering="crispEdges"/>
<rect x="436" y="0" width="1" height="23" fill="#fff" shape-rendering="crispEdges"/>
<rect x="411" y="22" width="26" height="1" fill="#fff" shape-rendering="crispEdges"/>
<rect x="419" y="6" width="1" height="14" fill="#555" shape-rendering="crispEdges"/>
<rect x="417" y="17" width="14" height="1" fill="#555" shape-rendering="crispEdges"/>
<rect x="418" y="7" width="3" height="1" fill="#555" shape-rendering="crispEdges"/>
<rect x="429" y="16" width="1" height="3" fill="#555" shape-rendering="crispEdges"/>
<polygon points="424.5,8.8 424.5,14.6 428,11.7" fill="#6fe06f" stroke="#169a16" stroke-width="0.9"/>
<rect x="439" y="0" width="26" height="23" fill="url(#chk)" shape-rendering="crispEdges"/>
<rect x="439" y="0" width="25" height="1" fill="#a0a0a0" shape-rendering="crispEdges"/>
<rect x="439" y="0" width="1" height="22" fill="#a0a0a0" shape-rendering="crispEdges"/>
<rect x="464" y="0" width="1" height="23" fill="#fff" shape-rendering="crispEdges"/>
<rect x="439" y="22" width="26" height="1" fill="#fff" shape-rendering="crispEdges"/>
<rect x="447" y="6" width="1" height="14" fill="#555" shape-rendering="crispEdges"/>
<rect x="445" y="17" width="14" height="1" fill="#555" shape-rendering="crispEdges"/>
<rect x="446" y="7" width="3" height="1" fill="#555" shape-rendering="crispEdges"/>
<rect x="457" y="16" width="1" height="3" fill="#555" shape-rendering="crispEdges"/>
<rect x="453" y="6" width="1" height="10" fill="#1f6fb8" shape-rendering="crispEdges"/>
<path d="M455,11.5 H459.5 M455,11.5 L457,9.6 M455,11.5 L457,13.4" stroke="#d23c0a" stroke-width="1.1" fill="none"/>
<rect x="468" y="1" width="1" height="21" fill="#a0a0a0" shape-rendering="crispEdges"/>
<path d="M478.5,4.5H486.5L489.5,7.5V17.5H478.5Z" fill="#fff" stroke="#8a8a8a"/>
<path d="M486.5,4.5V7.5H489.5" fill="#e8e8e8" stroke="#8a8a8a"/>
<path d="M483,7 q-1.5,0 -1.5,1.5 v1.5 q0,1 -1,1 q1,0 1,1 v1.5 q0,1.5 1.5,1.5" fill="none" stroke="#6a5a30" stroke-width="0.9"/>
<path d="M486.5,10.5H489.5V14.5H493.5V17.5H489.5V21.5H486.5V17.5H482.5V14.5H486.5Z" fill="#2fe02f" stroke="#0c8a0c"/>
<polygon points="500,11 506,11 503,14.2" fill="#000"/>
<circle cx="524" cy="11.7" r="6.6" fill="#fdfdfd" stroke="#2576d6" stroke-width="2.7"/>
<circle cx="524" cy="11.7" r="8" fill="none" stroke="#0f4fa8" stroke-width="0.7"/>
<circle cx="524" cy="11.7" r="5.2" fill="none" stroke="#9db4cc" stroke-width="0.7" stroke-dasharray="0.7 2"/>
<path d="M523.5,7.5 V12 H527" fill="none" stroke="#333" stroke-width="1.2"/>
<path d="M522.5,15.3 H525.5" stroke="#9cc8f0" stroke-width="1"/>
<polygon points="539,11 545,11 542,14.2" fill="#000"/>
<rect x="555.5" y="5.5" width="15" height="13" rx="1" fill="#fff" stroke="#2b6cc4"/>
<rect x="556" y="6" width="14" height="2" fill="#5b9be6" shape-rendering="crispEdges"/>
<rect x="556" y="12" width="14" height="1" fill="#2b6cc4" shape-rendering="crispEdges"/>
<path d="M557.5,11 H559.5 L561,9.5 H563 L564.5,10.5 H566.5 L568,9.5 H569" fill="none" stroke="#a82a10" stroke-width="1.1"/>
<path d="M558,16.5 H559.5 L561,15.5 L562.5,16.5 L565,14.2 L566.5,14.8 L568.5,16.5" fill="none" stroke="#1f9a1f" stroke-width="1.1"/>
<polygon points="578,11 584,11 581,14.2" fill="#000"/>
<rect x="589" y="0" width="1" height="24" fill="#a0a0a0" shape-rendering="crispEdges"/>
<rect x="590" y="0" width="1" height="24" fill="#fff" shape-rendering="crispEdges"/>
<rect x="593" y="2" width="3" height="1" fill="#b4b4b4" shape-rendering="crispEdges"/>
<rect x="593" y="4" width="3" height="1" fill="#b4b4b4" shape-rendering="crispEdges"/>
<rect x="593" y="6" width="3" height="1" fill="#b4b4b4" shape-rendering="crispEdges"/>
<rect x="593" y="8" width="3" height="1" fill="#b4b4b4" shape-rendering="crispEdges"/>
<rect x="593" y="10" width="3" height="1" fill="#b4b4b4" shape-rendering="crispEdges"/>
<rect x="593" y="12" width="3" height="1" fill="#b4b4b4" shape-rendering="crispEdges"/>
<rect x="593" y="14" width="3" height="1" fill="#b4b4b4" shape-rendering="crispEdges"/>
<rect x="593" y="16" width="3" height="1" fill="#b4b4b4" shape-rendering="crispEdges"/>
<rect x="593" y="18" width="3" height="1" fill="#b4b4b4" shape-rendering="crispEdges"/>
<rect x="593" y="20" width="3" height="1" fill="#b4b4b4" shape-rendering="crispEdges"/>
<rect x="599" y="0" width="26" height="23" fill="url(#chk)" shape-rendering="crispEdges"/>
<rect x="599" y="0" width="25" height="1" fill="#a0a0a0" shape-rendering="crispEdges"/>
<rect x="599" y="0" width="1" height="22" fill="#a0a0a0" shape-rendering="crispEdges"/>
<rect x="624" y="0" width="1" height="23" fill="#fff" shape-rendering="crispEdges"/>
<rect x="599" y="22" width="26" height="1" fill="#fff" shape-rendering="crispEdges"/>
<path d="M607,5 L607,16 L609.6,13.6 L611.8,19 L613.6,18.2 L611.4,13 L615,13Z" fill="#505050"/>
<rect x="639" y="5" width="1" height="15" fill="#505050" shape-rendering="crispEdges"/>
<rect x="632" y="12" width="15" height="1" fill="#505050" shape-rendering="crispEdges"/>
<rect x="639" y="12" width="1" height="1" fill="#f0f0f0" shape-rendering="crispEdges"/>
<rect x="656" y="1" width="1" height="21" fill="#a0a0a0" shape-rendering="crispEdges"/>
<rect x="673" y="6" width="1" height="13" fill="#505050" shape-rendering="crispEdges"/>
<rect x="696" y="12" width="12" height="1" fill="#505050" shape-rendering="crispEdges"/>
<path d="M724,19 L736,7" stroke="#505050" stroke-width="1.1"/>
<g stroke="#505050" stroke-width="1" fill="none">
<path d="M750,14 L761,5.5 M752.5,19 L764,10"/>
<path d="M752,12.5 L754,17.5 M754.5,10.5 L756.5,16 M757,8.6 L759,14 M759.5,6.8 L761.5,12.2 M762,4 L763,10.6" stroke-width="0.9"/>
</g>
<text x="761" y="21" font-size="7" font-weight="bold" fill="#333">E</text>
<line x1="779" y1="5.5" x2="793" y2="5.5" stroke="#505050" stroke-dasharray="1 1" shape-rendering="crispEdges"/>
<line x1="779" y1="8.5" x2="793" y2="8.5" stroke="#505050" stroke-dasharray="1 1" shape-rendering="crispEdges"/>
<line x1="779" y1="12.5" x2="793" y2="12.5" stroke="#505050" stroke-dasharray="1 1" shape-rendering="crispEdges"/>
<line x1="779" y1="16.5" x2="788" y2="16.5" stroke="#505050" stroke-dasharray="1 1" shape-rendering="crispEdges"/>
<text x="789" y="21" font-size="7" font-weight="bold" fill="#333">F</text>
<text x="809.3" y="17" font-size="12.5" fill="#555" stroke="#555" stroke-width="0.35">A</text>
<rect x="836.5" y="6.5" width="11" height="12" fill="none" stroke="#505050" stroke-dasharray="1 1" shape-rendering="crispEdges"/>
<rect x="838" y="8" width="8" height="1.4" fill="#555"/>
<rect x="841.2" y="8" width="1.6" height="9" fill="#555"/>
<rect x="835" y="5" width="3" height="1.4" fill="#555"/>
<path d="M863,9.5 L866.5,6 L870,9.5 L866.5,10.8Z" fill="#505050"/>
<path d="M870,15.5 L873.5,19 L877,15.5 L873.5,14.2Z" fill="#505050"/>
<path d="M865,13 L867.2,15 L873,9" fill="none" stroke="#505050" stroke-width="1.3"/>
<polygon points="884,11 890,11 887,14.2" fill="#000"/>
<rect x="895" y="0" width="1" height="24" fill="#a0a0a0" shape-rendering="crispEdges"/>
<rect x="896" y="0" width="1" height="24" fill="#fff" shape-rendering="crispEdges"/>
<rect x="899" y="2" width="3" height="1" fill="#b4b4b4" shape-rendering="crispEdges"/>
<rect x="899" y="4" width="3" height="1" fill="#b4b4b4" shape-rendering="crispEdges"/>
<rect x="899" y="6" width="3" height="1" fill="#b4b4b4" shape-rendering="crispEdges"/>
<rect x="899" y="8" width="3" height="1" fill="#b4b4b4" shape-rendering="crispEdges"/>
<rect x="899" y="10" width="3" height="1" fill="#b4b4b4" shape-rendering="crispEdges"/>
<rect x="899" y="12" width="3" height="1" fill="#b4b4b4" shape-rendering="crispEdges"/>
<rect x="899" y="14" width="3" height="1" fill="#b4b4b4" shape-rendering="crispEdges"/>
<rect x="899" y="16" width="3" height="1" fill="#b4b4b4" shape-rendering="crispEdges"/>
<rect x="899" y="18" width="3" height="1" fill="#b4b4b4" shape-rendering="crispEdges"/>
<rect x="899" y="20" width="3" height="1" fill="#b4b4b4" shape-rendering="crispEdges"/>
<rect x="1073" y="0" width="26" height="23" fill="url(#chk)" shape-rendering="crispEdges"/>
<rect x="1073" y="0" width="25" height="1" fill="#a0a0a0" shape-rendering="crispEdges"/>
<rect x="1073" y="0" width="1" height="22" fill="#a0a0a0" shape-rendering="crispEdges"/>
<rect x="1098" y="0" width="1" height="23" fill="#fff" shape-rendering="crispEdges"/>
<rect x="1073" y="22" width="26" height="1" fill="#fff" shape-rendering="crispEdges"/>
<text x="910.0" y="16" font-size="10" fill="#4a4a4a" textLength="13.6" lengthAdjust="spacingAndGlyphs">M1</text>
<text x="938.2" y="16" font-size="10" fill="#4a4a4a" textLength="13.4" lengthAdjust="spacingAndGlyphs">M5</text>
<text x="964.2" y="16" font-size="10" fill="#4a4a4a" textLength="18.4" lengthAdjust="spacingAndGlyphs">M15</text>
<text x="992.1" y="16" font-size="10" fill="#4a4a4a" textLength="18.6" lengthAdjust="spacingAndGlyphs">M30</text>
<text x="1023.1" y="16" font-size="10" fill="#4a4a4a" textLength="12.3" lengthAdjust="spacingAndGlyphs">H1</text>
<text x="1050.1" y="16" font-size="10" fill="#4a4a4a" textLength="13.3" lengthAdjust="spacingAndGlyphs">H4</text>
<text x="1078.8999999999999" y="16" font-size="10" fill="#4a4a4a" textLength="12.5" lengthAdjust="spacingAndGlyphs">D1</text>
<text x="1106.8999999999999" y="16" font-size="10" fill="#4a4a4a" textLength="14.7" lengthAdjust="spacingAndGlyphs">W1</text>
<text x="1133.3999999999999" y="16" font-size="10" fill="#4a4a4a" textLength="15.0" lengthAdjust="spacingAndGlyphs">MN</text>
<rect x="1156" y="1" width="1" height="21" fill="#a0a0a0" shape-rendering="crispEdges"/>
<path d="M1623.4,12.4 L1619,16.6" stroke="#2358c8" stroke-width="2.6" stroke-linecap="round"/>
<circle cx="1626.4" cy="9.3" r="3.6" fill="#fafcff" stroke="#1e50c8" stroke-width="1.4"/>
<path d="M1659,4.5 c4,0 6.5,2.2 6.5,5 c0,2 -1.4,3.6 -3.4,4.4 l0.6,2 l-2.6,-1.6 c-5,0.6 -7.6,-2 -7.6,-4.8 c0,-2.8 2.6,-5 6.5,-5Z" fill="#f4f4f7" stroke="#8e8e96" stroke-width="0.9"/>
<path d="M1650,9.8 c3,0 5,1.7 5,3.8 c0,2.2 -2,3.8 -5,3.8 c-0.6,0 -1.2,0 -1.7,-0.2 l-2,1.6 l0.3,-2.2 c-1,-0.7 -1.6,-1.8 -1.6,-3 c0,-2.1 2,-3.8 5,-3.8Z" fill="#f4f4f7" stroke="#8e8e96" stroke-width="0.9"/>
</g>
</svg>
</body></html>
